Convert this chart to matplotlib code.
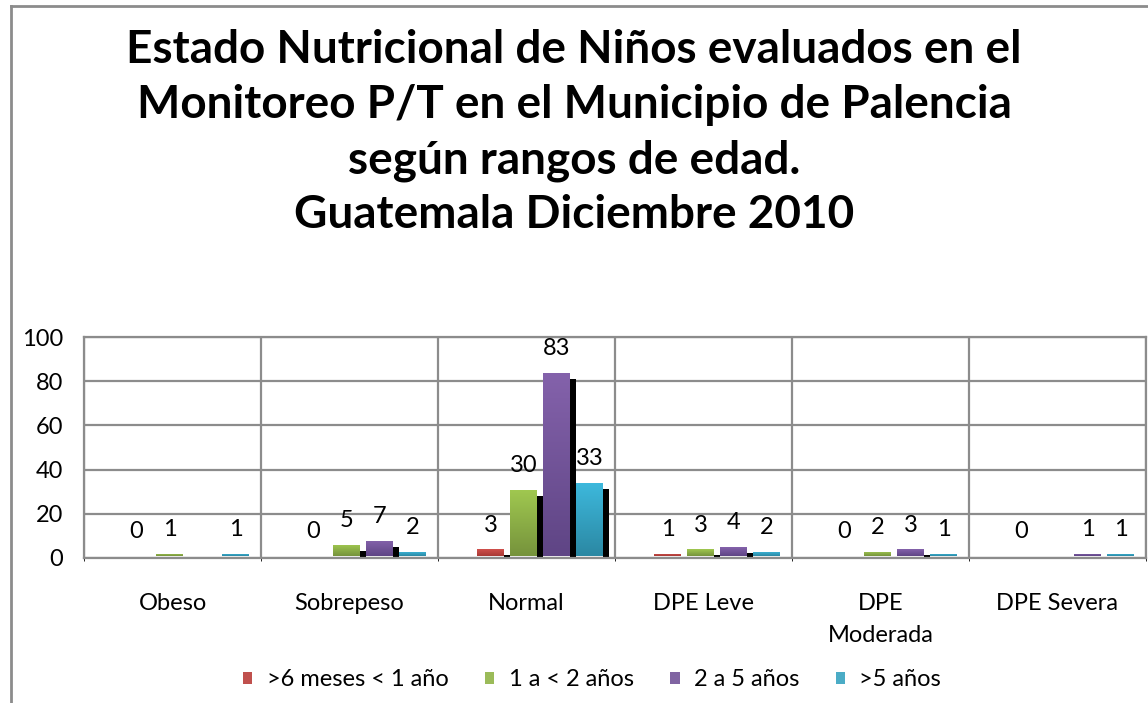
import matplotlib.pyplot as plt
import numpy as np
from matplotlib.lines import Line2D
from matplotlib.patches import Patch

categories = ["Obeso", "Sobrepeso", "Normal", "DPE Leve", "DPE\nModerada", "DPE Severa"]
series_names = [">6 meses < 1 año", "1 a < 2 años", "2 a 5 años", ">5 años"]
# None = no value shown in the chart
v_6m_1a = [0, 0, 3, 1, 0, 0]
v_1a_2a = [1, 5, 30, 3, 2, None]
v_2a_5a = [None, 7, 83, 4, 3, 1]
v_5a = [1, 2, 33, 2, 1, 1]
series = [v_6m_1a, v_1a_2a, v_2a_5a, v_5a]

colors_top = ["#d0504c", "#a0c850", "#8462ab", "#3db8dc"]
colors_bot = ["#a83a36", "#76933c", "#5f4585", "#2b88a3"]
legend_colors = ["#c0504d", "#9bbb59", "#8064a2", "#4bacc6"]

plt.rcParams['font.family'] = ['Lato', 'DejaVu Sans']

fig = plt.figure(figsize=(11.48, 7.03), dpi=100)
ax = fig.add_axes([84 / 1148, 145 / 703, 1062 / 1148, 221 / 703])

grid_col = "#8c8c8c"
slot = 33 / 177
bar_w = 27 / 177
shadow_w = 6 / 177
lift = 0.9
drop = 2.7

x = np.arange(len(categories))
for i, vals in enumerate(series):
    left = x - 0.466 + (i + 1) * slot
    for j, v in enumerate(vals):
        if v is None:
            continue
        # shadow
        sh = v + lift - drop
        if sh > 0:
            ax.bar(left[j] + bar_w, sh, width=shadow_w, bottom=0, align='edge',
                   color='black', zorder=2)
        if v > 0:
            b = ax.bar(left[j], v, width=bar_w, bottom=lift, align='edge',
                       color=colors_top[i], zorder=3)[0]
            grad = np.linspace(0, 1, 64).reshape(-1, 1)
            cmap = plt.matplotlib.colors.LinearSegmentedColormap.from_list(
                'g', [colors_bot[i], colors_top[i]])
            im = ax.imshow(grad, extent=(left[j], left[j] + bar_w, lift, lift + v),
                           origin='lower', aspect='auto', cmap=cmap, zorder=3.5)
            im.set_clip_path(b)
        ax.annotate(str(v), (left[j] + bar_w / 2, v + lift), xytext=(0, 17.5),
                    textcoords='offset points', ha='center', va='center',
                    fontsize=17, color='black', zorder=5)

ax.set_xlim(-0.5, len(categories) - 0.5)
ax.set_ylim(0, 100)
ax.set_yticks(np.arange(0, 101, 20))
ax.set_xticks(x)
ax.set_xticklabels(categories, fontsize=17, va='top', linespacing=1.68)
ax.tick_params(axis='x', length=0, pad=25)
ax.tick_params(axis='y', length=0, pad=15, labelsize=17)
ax.set_xticks(np.arange(-0.5, len(categories), 1), minor=True)
ax.grid(True, axis='y', color=grid_col, linewidth=1.6, zorder=0)
ax.grid(True, axis='x', which='minor', color=grid_col, linewidth=1.6, zorder=0)
ax.grid(False, axis='x', which='major')
ax.set_axisbelow(True)
for s in ax.spines.values():
    s.set_color(grid_col)
    s.set_linewidth(1.6)

handles = [Patch(facecolor=c, edgecolor='none') for c in legend_colors]
fig.legend(handles, series_names, loc='center', bbox_to_anchor=(592 / 1148, 1 - 680 / 703),
           ncol=4, frameon=False, fontsize=17, handlelength=0.4, handleheight=0.4,
           handletextpad=0.6, columnspacing=1.55)

title_lines = ["Estado Nutricional de Niños evaluados en el",
               "Monitoreo P/T en el Municipio de Palencia",
               "según rangos de edad.",
               "Guatemala Diciembre 2010"]
for k, t in enumerate(title_lines):
    fig.text(574 / 1148, 1 - (63 + k * 55) / 703, t, ha='center', va='baseline',
             fontsize=33, fontweight='bold')

fig.add_artist(Line2D([11 / 1148, 1], [1 - 6 / 703, 1 - 6 / 703], color=grid_col, lw=2))
fig.add_artist(Line2D([11 / 1148, 11 / 1148], [0, 1 - 6 / 703], color=grid_col, lw=2))

fig.savefig("out.png", dpi=100)
